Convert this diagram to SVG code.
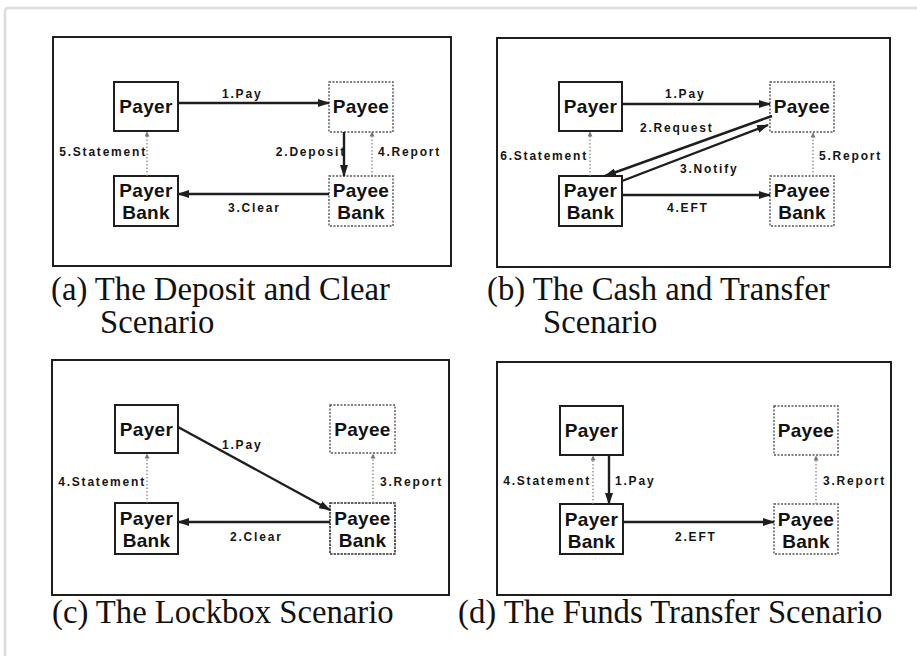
<svg xmlns="http://www.w3.org/2000/svg" width="917" height="656" viewBox="0 0 917 656">
  <style>
    .frame { fill: none; stroke: #1e1e1e; stroke-width: 2; }
    .solid { fill: #fff; stroke: #1e1e1e; stroke-width: 2; }
    .dotted { fill: #fff; stroke: #555; stroke-width: 1.4; stroke-dasharray: 2 1.5; }
    .dashed { fill: #fff; stroke: #333; stroke-width: 1.6; stroke-dasharray: 2.5 1; }
    .node { font-family: "Liberation Sans", Arial, sans-serif; font-weight: bold; font-size: 19px; letter-spacing: 0.3px; fill: #111; text-anchor: middle; }
    .lbl { font-family: "Liberation Sans", Arial, sans-serif; font-weight: bold; font-size: 12px; letter-spacing: 1.8px; fill: #151515; }
    .end { text-anchor: end; }
    .cap { font-family: "Liberation Serif", "Times New Roman", serif; font-size: 32.7px; fill: #111; }
    .flow { stroke: #1e1e1e; stroke-width: 2.4; fill: none; marker-end: url(#head); }
    .info { stroke: #888; stroke-width: 1.3; stroke-dasharray: 1.5 2; fill: none; marker-end: url(#tick); }
  </style>
  <defs>
    <marker id="head" markerUnits="userSpaceOnUse" markerWidth="12" markerHeight="8" refX="11" refY="4" orient="auto">
      <path d="M0,0 L12,4 L0,8 Z" fill="#1e1e1e"/>
    </marker>
    <marker id="tick" markerUnits="userSpaceOnUse" markerWidth="5" markerHeight="5" refX="4.5" refY="2.5" orient="auto">
      <path d="M0,0 L5,2.5 L0,5 Z" fill="#777"/>
    </marker>
  </defs>

  <rect width="917" height="656" fill="#fff"/>
  <!-- page border -->
  <rect x="5" y="8" width="940" height="700" rx="3" fill="none" stroke="#dcdcdc" stroke-width="2.5"/>

  <!-- ============ (a) Deposit and Clear ============ -->
  <g id="panel-a">
    <rect class="frame" x="53" y="37" width="398" height="229"/>
    <g id="a-payer"><rect class="solid" x="114" y="82" width="64" height="49"/><text class="node" x="146" y="113">Payer</text></g>
    <g id="a-payee"><rect class="dotted" x="329" y="82" width="64" height="50"/><text class="node" x="361" y="113">Payee</text></g>
    <g id="a-payer-bank"><rect class="solid" x="114" y="176" width="64" height="50"/><text class="node" x="146" y="197">Payer</text><text class="node" x="146" y="219">Bank</text></g>
    <g id="a-payee-bank"><rect class="dotted" x="329" y="176" width="64" height="50"/><text class="node" x="361" y="197">Payee</text><text class="node" x="361" y="219">Bank</text></g>
    <g id="a-connectors">
      <line class="flow" x1="178" y1="103" x2="329" y2="103"/>
      <line class="flow" x1="344" y1="132" x2="344" y2="176"/>
      <line class="info" x1="372" y1="176" x2="372" y2="132"/>
      <line class="flow" x1="329" y1="194" x2="178" y2="194"/>
      <line class="info" x1="147" y1="176" x2="147" y2="132"/>
      <text class="lbl" x="222" y="98">1.Pay</text>
      <text class="lbl end" x="346" y="156">2.Deposit</text>
      <text class="lbl" x="378" y="156">4.Report</text>
      <text class="lbl" x="228" y="212">3.Clear</text>
      <text class="lbl end" x="147" y="156">5.Statement</text>
    </g>
    <text class="cap" x="51" y="300">(a) The Deposit and Clear</text>
    <text class="cap" x="100" y="333">Scenario</text>
  </g>

  <!-- ============ (b) Cash and Transfer ============ -->
  <g id="panel-b">
    <rect class="frame" x="497" y="38" width="393" height="229"/>
    <g id="b-payer"><rect class="solid" x="559" y="82" width="63" height="49"/><text class="node" x="590.5" y="113">Payer</text></g>
    <g id="b-payee"><rect class="dotted" x="770" y="82" width="64" height="50"/><text class="node" x="802" y="113">Payee</text></g>
    <g id="b-payer-bank"><rect class="solid" x="559" y="176" width="63" height="50"/><text class="node" x="590.5" y="197">Payer</text><text class="node" x="590.5" y="219">Bank</text></g>
    <g id="b-payee-bank"><rect class="dotted" x="770" y="176" width="64" height="50"/><text class="node" x="802" y="197">Payee</text><text class="node" x="802" y="219">Bank</text></g>
    <g id="b-connectors">
      <line class="flow" x1="622" y1="104" x2="770" y2="104"/>
      <line class="flow" x1="772" y1="116" x2="605" y2="176"/>
      <line class="flow" x1="622" y1="181" x2="768" y2="125"/>
      <line class="flow" x1="622" y1="195" x2="770" y2="195"/>
      <line class="info" x1="590" y1="176" x2="590" y2="132"/>
      <line class="info" x1="813" y1="176" x2="813" y2="133"/>
      <text class="lbl" x="665" y="98">1.Pay</text>
      <text class="lbl" x="640" y="132">2.Request</text>
      <text class="lbl" x="680" y="173">3.Notify</text>
      <text class="lbl" x="667" y="212">4.EFT</text>
      <text class="lbl end" x="588" y="160">6.Statement</text>
      <text class="lbl" x="819" y="160">5.Report</text>
    </g>
    <text class="cap" x="487" y="300">(b) The Cash and Transfer</text>
    <text class="cap" x="543" y="333">Scenario</text>
  </g>

  <!-- ============ (c) Lockbox ============ -->
  <g id="panel-c">
    <rect class="frame" x="52" y="360" width="397" height="235"/>
    <g id="c-payer"><rect class="solid" x="115" y="405" width="63" height="48"/><text class="node" x="146.5" y="436">Payer</text></g>
    <g id="c-payee"><rect class="dotted" x="330" y="405" width="65" height="48"/><text class="node" x="362.5" y="436">Payee</text></g>
    <g id="c-payer-bank"><rect class="solid" x="115" y="503" width="63" height="51"/><text class="node" x="146.5" y="525">Payer</text><text class="node" x="146.5" y="547">Bank</text></g>
    <g id="c-payee-bank"><rect class="dashed" x="330" y="503" width="65" height="51"/><text class="node" x="362.5" y="525">Payee</text><text class="node" x="362.5" y="547">Bank</text></g>
    <g id="c-connectors">
      <line class="flow" x1="178" y1="427" x2="330" y2="510"/>
      <line class="flow" x1="330" y1="522" x2="178" y2="522"/>
      <line class="info" x1="147" y1="503" x2="147" y2="454"/>
      <line class="info" x1="373" y1="503" x2="373" y2="454"/>
      <text class="lbl" x="222" y="449">1.Pay</text>
      <text class="lbl" x="230" y="541">2.Clear</text>
      <text class="lbl end" x="146" y="486">4.Statement</text>
      <text class="lbl" x="380" y="486">3.Report</text>
    </g>
    <text class="cap" x="52" y="623">(c) The Lockbox Scenario</text>
  </g>

  <!-- ============ (d) Funds Transfer ============ -->
  <g id="panel-d">
    <rect class="frame" x="497" y="362" width="394" height="233"/>
    <g id="d-payer"><rect class="solid" x="560" y="406" width="63" height="49"/><text class="node" x="591.5" y="437">Payer</text></g>
    <g id="d-payee"><rect class="dotted" x="774" y="406" width="64" height="49"/><text class="node" x="806" y="437">Payee</text></g>
    <g id="d-payer-bank"><rect class="solid" x="560" y="504" width="63" height="50"/><text class="node" x="591.5" y="526">Payer</text><text class="node" x="591.5" y="548">Bank</text></g>
    <g id="d-payee-bank"><rect class="dotted" x="774" y="504" width="64" height="50"/><text class="node" x="806" y="526">Payee</text><text class="node" x="806" y="548">Bank</text></g>
    <g id="d-connectors">
      <line class="flow" x1="609" y1="455" x2="609" y2="504"/>
      <line class="flow" x1="623" y1="522" x2="774" y2="522"/>
      <line class="info" x1="593" y1="504" x2="593" y2="456"/>
      <line class="info" x1="816" y1="504" x2="816" y2="456"/>
      <text class="lbl" x="615" y="485">1.Pay</text>
      <text class="lbl" x="675" y="541">2.EFT</text>
      <text class="lbl end" x="591" y="485">4.Statement</text>
      <text class="lbl" x="823" y="485">3.Report</text>
    </g>
    <text class="cap" x="458" y="623">(d) The Funds Transfer Scenario</text>
  </g>
</svg>
